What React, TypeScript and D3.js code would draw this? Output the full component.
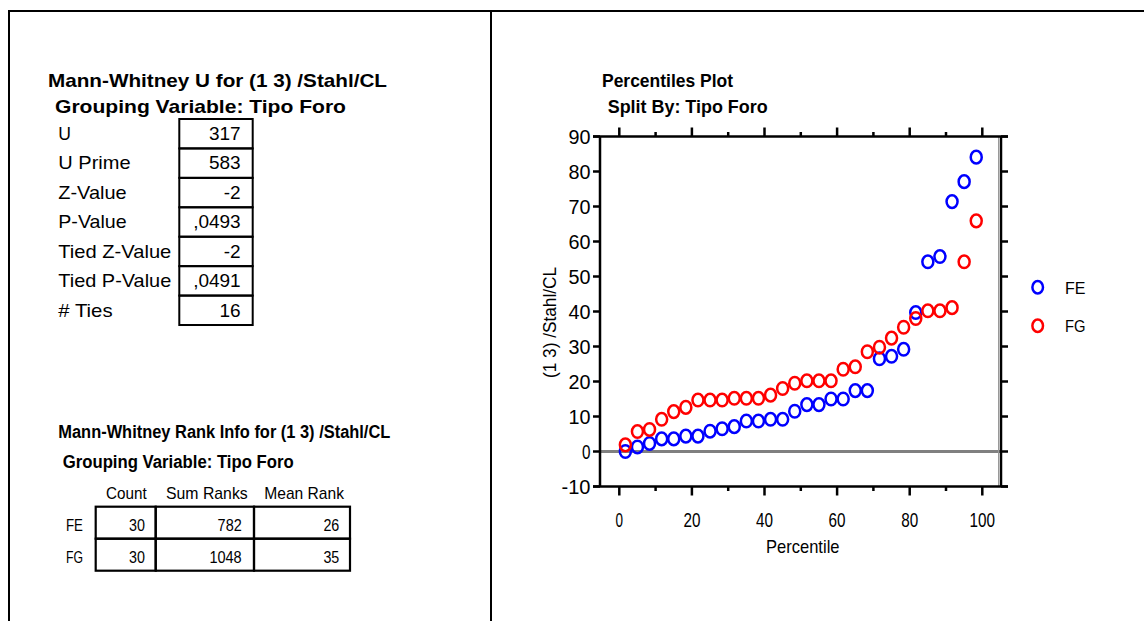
import React from "react";
import * as d3 from "d3";

// ---- data ----
const percentiles = [1.67, 5, 8.33, 11.67, 15, 18.33, 21.67, 25, 28.33, 31.67, 35, 38.33, 41.67, 45, 48.33, 51.67, 55, 58.33, 61.67, 65, 68.33, 71.67, 75, 78.33, 81.67, 85, 88.33, 91.67, 95, 98.33];
const feValues = [0, 1.3, 2.3, 3.6, 3.6, 4.4, 4.4, 5.8, 6.5, 7.1, 8.7, 8.7, 9.2, 9.2, 11.5, 13.4, 13.4, 15, 15, 17.4, 17.4, 26.5, 27.2, 29.2, 39.7, 54.2, 55.7, 71.4, 77.1, 84.1];
const fgValues = [1.9, 5.7, 6.3, 9.2, 11.4, 12.6, 14.7, 14.7, 14.7, 15.2, 15.2, 15.2, 16.1, 18, 19.5, 20.2, 20.2, 20.2, 23.5, 24.2, 28.5, 29.8, 32.4, 35.5, 38, 40.2, 40.2, 41.1, 54.2, 65.9];
const seriesNames = ["FE", "FG"];
const seriesColors = ["#0000ff", "#ff0000"];
const yTicks = [-10, 0, 10, 20, 30, 40, 50, 60, 70, 80, 90];
const xMajorTicks = [0, 20, 40, 60, 80, 100];
const xMinorTicks = [10, 30, 50, 70, 90];

const mwLabels = ["U", "U Prime", "Z-Value", "P-Value", "Tied Z-Value", "Tied P-Value", "# Ties"];
const mwValues = ["317", "583", "-2", ",0493", "-2", ",0491", "16"];
const rankHeaders = ["Count", "Sum Ranks", "Mean Rank"];
const rankGroups = ["FE", "FG"];
const rankCounts = ["30", "30"];
const rankSums = ["782", "1048"];
const rankMeans = ["26", "35"];

const FONT = "'Liberation Sans', Arial, Helvetica, sans-serif";

function T({ x, y, children, size = 18, bold = false, len, anchor = "start", ...rest }: any) {
  return (
    <text
      x={x}
      y={y}
      fontFamily={FONT}
      fontSize={size}
      fontWeight={bold ? "bold" : "normal"}
      textAnchor={anchor}
      fill="#000"
      {...(len ? { textLength: len, lengthAdjust: "spacingAndGlyphs" } : {})}
      {...rest}
    >
      {children}
    </text>
  );
}

export default function App() {
  const W = 1144, H = 621;
  // plot geometry
  const left = 600, right = 1001, top = 136.5, bottom = 486.5;
  const x = d3.scaleLinear().domain([0, 100]).range([619.3, 982.3]);
  const y = d3.scaleLinear().domain([-10, 90]).range([bottom, top]);

  const yLabelLen = (s: string) => (s.length === 1 ? 8.5 : s.length === 2 ? 22 : 29);
  const xLabelLen = (s: string) => (s.length === 1 ? 7.5 : s.length === 2 ? 17 : 25.5);

  const mwLabelLens = [12.7, 72.3, 68.3, 68.3, 113, 113, 54.3];
  const rowTop0 = 119, rowPitch = 29.43;

  const rankColX = [95.7, 155.7, 254, 350];
  const rankRowY = [506.7, 538.7, 570.7];
  const headerX = [106, 166, 264.3];
  const headerLen = [40.7, 81.7, 79.7];

  const valLen = (s: string) => s.length * 8.2 - 0.5;

  return (
    <svg width={W} height={H} style={{ position: "absolute", left: 0, top: 0, background: "#fff" }}>
      <rect x={0} y={0} width={W} height={H} fill="#fff" />
      {/* frame */}
      <line x1={8} x2={W} y1={11} y2={11} stroke="#000" strokeWidth={2} />
      <line x1={9} x2={9} y1={10} y2={H} stroke="#000" strokeWidth={2} />
      <line x1={491} x2={491} y1={10} y2={H} stroke="#000" strokeWidth={2} />

      {/* ---- Mann-Whitney table ---- */}
      <T x={48} y={87} size={18.5} bold len={339}>Mann-Whitney U for (1 3) /Stahl/CL</T>
      <T x={55} y={112.5} size={18.5} bold len={291}>Grouping Variable: Tipo Foro</T>
      {mwLabels.map((lab, i) => {
        const yt = rowTop0 + i * rowPitch;
        return (
          <g key={lab}>
            <rect x={179.3} y={yt} width={73.4} height={rowPitch} fill="none" stroke="#000" strokeWidth={2} />
            <T x={58.3} y={yt + 21} size={19} len={mwLabelLens[i]}>{lab}</T>
            <T x={240.7} y={yt + 21} size={19} anchor="end">{mwValues[i]}</T>
          </g>
        );
      })}

      {/* ---- Rank info ---- */}
      <T x={58.3} y={438.3} size={18} bold len={332}>Mann-Whitney Rank Info for (1 3) /Stahl/CL</T>
      <T x={62.7} y={468.3} size={18} bold len={231}>Grouping Variable: Tipo Foro</T>
      {rankHeaders.map((h, i) => (
        <T key={h} x={headerX[i]} y={499.3} size={17} len={headerLen[i]}>{h}</T>
      ))}
      {rankGroups.map((g, r) => {
        const cells = [rankCounts[r], rankSums[r], rankMeans[r]];
        const rights = [145, 241.7, 339.3];
        return (
          <g key={g}>
            <T x={66} y={rankRowY[r] + 24} size={16} len={17}>{g}</T>
            {cells.map((c, ci) => (
              <g key={ci}>
                <rect x={rankColX[ci]} y={rankRowY[r]} width={rankColX[ci + 1] - rankColX[ci]} height={rankRowY[r + 1] - rankRowY[r]} fill="none" stroke="#000" strokeWidth={2.2} />
                <T x={rights[ci] - valLen(c)} y={rankRowY[r] + 24} size={16} len={valLen(c)}>{c}</T>
              </g>
            ))}
          </g>
        );
      })}

      {/* ---- Percentiles plot ---- */}
      <T x={602} y={87.3} size={19} bold len={131}>Percentiles Plot</T>
      <T x={607.7} y={113.3} size={19} bold len={160}>Split By: Tipo Foro</T>

      {/* zero line */}
      <line x1={left} x2={right} y1={y(0)} y2={y(0)} stroke="#808080" strokeWidth={3} />
      {/* inner gray right border */}
      <line x1={998.5} x2={998.5} y1={top} y2={bottom} stroke="#999" strokeWidth={1} />

      {/* axes */}
      <line x1={left} x2={left} y1={top} y2={bottom} stroke="#000" strokeWidth={2.5} />
      <line x1={right} x2={right} y1={top} y2={bottom} stroke="#000" strokeWidth={2.5} />
      <line x1={593} x2={1008} y1={top} y2={top} stroke="#000" strokeWidth={2.5} />
      <line x1={593} x2={1008} y1={bottom} y2={bottom} stroke="#000" strokeWidth={2.5} />
      {yTicks.map((v) => (
        <g key={"yt" + v}>
          <line x1={593} x2={left} y1={y(v)} y2={y(v)} stroke="#000" strokeWidth={2.5} />
          <line x1={right} x2={1008} y1={y(v)} y2={y(v)} stroke="#000" strokeWidth={2.5} />
          <T x={590.5 - yLabelLen(String(v))} y={y(v) + 7.2} size={20} len={yLabelLen(String(v))}>{String(v)}</T>
        </g>
      ))}
      {xMajorTicks.map((v) => (
        <g key={"xt" + v}>
          <line x1={x(v)} x2={x(v)} y1={top} y2={top - 9} stroke="#000" strokeWidth={2.5} />
          <line x1={x(v)} x2={x(v)} y1={bottom} y2={bottom + 9} stroke="#000" strokeWidth={2.5} />
          <T x={x(v) - xLabelLen(String(v)) / 2} y={526.5} size={20} len={xLabelLen(String(v))}>{String(v)}</T>
        </g>
      ))}
      {xMinorTicks.map((v) => (
        <g key={"xm" + v}>
          <line x1={x(v)} x2={x(v)} y1={top} y2={top - 4.5} stroke="#000" strokeWidth={2.5} />
          <line x1={x(v)} x2={x(v)} y1={bottom} y2={bottom + 4.5} stroke="#000" strokeWidth={2.5} />
        </g>
      ))}
      <T x={766} y={553} size={19} len={73.5}>Percentile</T>
      <g transform={`translate(556, 322.5) rotate(-90)`}>
        <T x={-55.5} y={0} size={18} len={111}>(1 3) /Stahl/CL</T>
      </g>

      {/* points */}
      {[feValues, fgValues].map((vals, si) => (
        <g key={seriesNames[si]}>
          {vals.map((v, i) => (
            <ellipse key={i} cx={x(percentiles[i])} cy={y(v)} rx={5.5} ry={6.3} fill="none" stroke={seriesColors[si]} strokeWidth={2.5} />
          ))}
        </g>
      ))}

      {/* legend */}
      {seriesNames.map((n, i) => (
        <g key={"lg" + n}>
          <ellipse cx={1037.7} cy={287.3 + i * 38.4} rx={5.3} ry={6.2} fill="none" stroke={seriesColors[i]} strokeWidth={2.5} />
          <T x={1065} y={294 + i * 38.4} size={17} len={20.5}>{n}</T>
        </g>
      ))}
    </svg>
  );
}
